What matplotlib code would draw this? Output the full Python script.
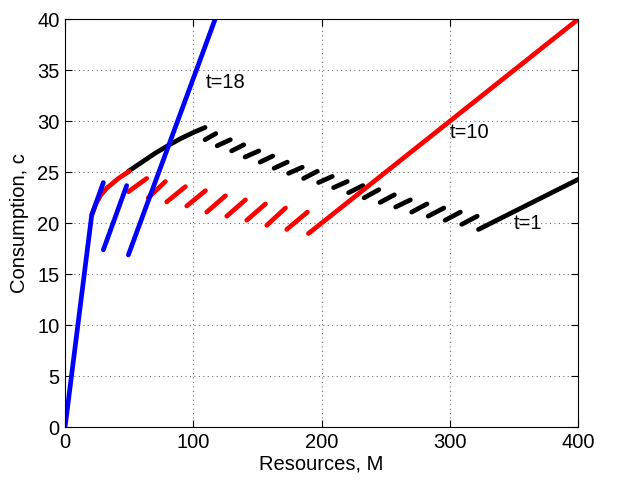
import matplotlib
matplotlib.use('Agg')
from matplotlib import pyplot as plt

plt.rcParams['font.family'] = ['Liberation Sans', 'DejaVu Sans']

# t=1 (black): smooth part, sawtooth pieces, final line
blk_curve_x = [49.4, 60, 70, 80, 90, 100, 109.2]
blk_curve_y = [25.1, 26.0, 26.85, 27.6, 28.3, 28.9, 29.4]
blk_x0 = [109.2, 118.6, 129.9, 140.4, 152.1, 163.0, 174.3, 186.0, 197.7,
          209.4, 221.1, 233.2, 245.7, 257.8, 270.3, 283.2, 296.4, 309.3]
blk_x1 = [117.6, 128.9, 139.4, 151.1, 162.0, 173.3, 185.0, 196.7, 208.4,
          220.1, 232.2, 244.7, 256.8, 269.3, 282.2, 295.4, 308.3, 321.4]
blk_y0 = [28.2, 27.6, 27.1, 26.5, 26.0, 25.4, 24.9, 24.4, 24.0,
          23.5, 23.0, 22.5, 22.05, 21.6, 21.1, 20.7, 20.3, 19.9]
blk_y1 = [28.8, 28.2, 27.7, 27.1, 26.6, 26.0, 25.5, 25.1, 24.6,
          24.1, 23.7, 23.3, 22.8, 22.3, 21.9, 21.5, 21.1, 20.7]
blk_line_x = [322.4, 400]
blk_line_y = [19.4, 24.3]

# t=10 (red)
red_curve_x = [20.8, 24.0, 28.0, 33.0, 41.6, 50.0]
red_curve_y = [20.8, 21.9, 22.8, 23.5, 24.4, 25.1]
red_x0 = [49.4, 64.9, 79.3, 94.9, 110.5, 126.1, 141.7, 157.3, 172.9]
red_x1 = [63.7, 78.3, 93.9, 109.5, 125.1, 140.7, 156.3, 171.9, 189.0]
red_y0 = [23.1, 22.5, 22.1, 21.7, 21.1, 20.7, 20.3, 19.8, 19.4]
red_y1 = [24.4, 24.1, 23.6, 23.2, 22.7, 22.3, 21.9, 21.5, 21.1]
red_line_x = [189.8, 400]
red_line_y = [19.0, 40.0]

# t=18 (blue)
blu_line_x = [0, 20.8, 29.9]
blu_line_y = [0, 20.8, 24.0]
blu_x0 = [29.9, 49.4]
blu_x1 = [48.1, 117.0]
blu_y0 = [17.4, 16.9]
blu_y1 = [23.7, 40.0]

labels = ['t=18', 't=10', 't=1']
label_x = [110, 299.8, 349.7]
label_y = [33.8, 28.9, 19.95]

fig = plt.figure(figsize=(6.18, 4.96), dpi=100)
ax = fig.add_axes([0.1052, 0.1385, 0.8301, 0.8225])

lw = 3.4
kw = dict(lw=lw, solid_capstyle='round', solid_joinstyle='round')

ax.plot(blk_curve_x, blk_curve_y, color='k', **kw)
for a, b, c, d in zip(blk_x0, blk_x1, blk_y0, blk_y1):
    ax.plot([a, b], [c, d], color='k', **kw)
ax.plot(blk_line_x, blk_line_y, color='k', **kw)

ax.plot(red_curve_x, red_curve_y, color='r', **kw)
for a, b, c, d in zip(red_x0, red_x1, red_y0, red_y1):
    ax.plot([a, b], [c, d], color='r', **kw)
ax.plot(red_line_x, red_line_y, color='r', **kw)

ax.plot(blu_line_x, blu_line_y, color='b', **kw)
for a, b, c, d in zip(blu_x0, blu_x1, blu_y0, blu_y1):
    ax.plot([a, b], [c, d], color='b', **kw)

for s, x, y in zip(labels, label_x, label_y):
    ax.text(x, y, s, fontsize=14.5, va='center', ha='left')

ax.set_xlim(0, 400)
ax.set_ylim(0, 40)
ax.set_xticks(range(0, 401, 100))
ax.set_yticks(range(0, 41, 5))
ax.grid(True, color='0.45', linestyle=(0, (1, 3)), linewidth=0.8)
ax.tick_params(direction='in', top=True, right=True, labelsize=14.5, length=5, pad=4)
for sp in ax.spines.values():
    sp.set_linewidth(0.8)
ax.set_xlabel('Resources, M', fontsize=14.5, labelpad=2)
ax.set_ylabel('Consumption, c', fontsize=14.5, labelpad=6)

fig.savefig('out.png', dpi=100)
